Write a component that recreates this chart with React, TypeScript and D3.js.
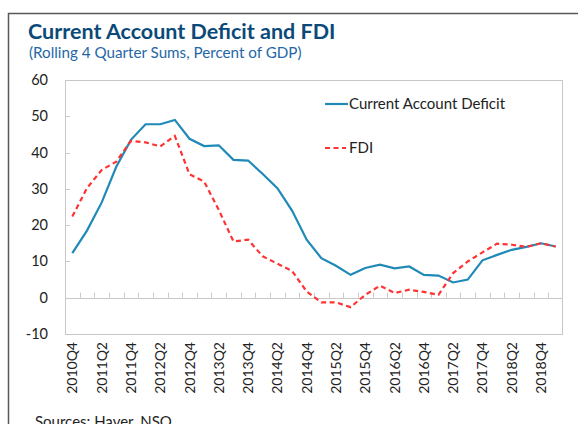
import React from "react";
import * as d3 from "d3";

const categories: string[] = [
  "2010Q4","2011Q1","2011Q2","2011Q3","2011Q4","2012Q1","2012Q2","2012Q3","2012Q4",
  "2013Q1","2013Q2","2013Q3","2013Q4","2014Q1","2014Q2","2014Q3","2014Q4",
  "2015Q1","2015Q2","2015Q3","2015Q4","2016Q1","2016Q2","2016Q3","2016Q4",
  "2017Q1","2017Q2","2017Q3","2017Q4","2018Q1","2018Q2","2018Q3","2018Q4","2019Q1",
];

const currentAccountDeficit: number[] = [
  12.3, 18.5, 26.2, 36.1, 43.5, 47.8, 47.8, 49.0, 43.8,
  41.8, 42.0, 38.0, 37.8, 34.1, 30.2, 24.0, 16.0,
  10.9, 8.8, 6.3, 8.2, 9.1, 8.1, 8.6, 6.3,
  6.1, 4.2, 5.0, 10.3, 11.8, 13.2, 14.0, 15.0, 14.1,
];

const fdi: number[] = [
  22.4, 30.2, 35.2, 37.5, 43.2, 42.8, 41.7, 44.6, 34.0,
  32.0, 24.2, 15.5, 16.0, 11.4, 9.4, 7.4, 1.7,
  -1.3, -1.3, -2.6, 0.8, 3.3, 1.3, 2.2, 1.6,
  0.8, 6.8, 10.0, 12.5, 14.9, 14.6, 14.0, 15.0, 14.1,
];

const yTicks: number[] = [-10, 0, 10, 20, 30, 40, 50, 60];

const FONT = "Lato, 'Open Sans', sans-serif";
const BLUE = "#1f8ab8";
const RED = "#ff3333";

export default function App() {
  const W = 578, H = 424;
  const left = 65, right = 563, top = 80, bottom = 334;
  const x = d3.scaleBand<string>().domain(categories).range([left, right]);
  const y = d3.scaleLinear().domain([-10, 60]).range([bottom, top]);
  const cx = (c: string) => (x(c) as number) + x.bandwidth() / 2;

  const line = d3.line<number>()
    .x((_, i) => cx(categories[i]))
    .y((d) => y(d));

  const boundaries = categories.slice(1).map((c) => x(c) as number);
  const labelCats = categories.filter((_, i) => i % 2 === 0);

  return (
    <svg width={W} height={H} style={{ position: "absolute", left: 0, top: 0, background: "#fff" }}
      fontFamily={FONT}>
      <rect x={0} y={0} width={W} height={H} fill="#fff" />
      {/* frame */}
      <path d={`M8.5,${H + 5} V13.5 H${W + 5}`} fill="none" stroke="#595959" strokeWidth={1.5} />
      {/* title */}
      <text x={28} y={39} fontSize={21.5} fontWeight={700} fill="#0b4a78">Current Account Deficit and FDI</text>
      <text x={29} y={58} fontSize={15.2} fill="#1f67a6">(Rolling 4 Quarter Sums, Percent of GDP)</text>
      {/* plot box */}
      <rect x={left + 0.5} y={top + 0.5} width={right - left - 1} height={bottom - top} fill="none" stroke="#c8c8c8" strokeWidth={1} />
      {/* y ticks */}
      {yTicks.map((t) => (
        <g key={t}>
          {t !== -10 && t !== 60 && t !== 0 && (
            <line x1={left} x2={left + 5} y1={Math.round(y(t)) + 0.5} y2={Math.round(y(t)) + 0.5} stroke="#c8c8c8" />
          )}
          <text x={48} y={y(t) + 5} fontSize={14.5} textAnchor="end" fill="#222">{t}</text>
        </g>
      ))}
      {/* zero axis */}
      <line x1={left} x2={right} y1={Math.round(y(0)) + 0.5} y2={Math.round(y(0)) + 0.5} stroke="#c8c8c8" />
      {boundaries.map((b, i) => (
        <line key={i} x1={Math.round(b) + 0.5} x2={Math.round(b) + 0.5} y1={y(0)} y2={y(0) - 5} stroke="#c8c8c8" />
      ))}
      {/* x labels */}
      {labelCats.map((c) => (
        <text key={c} transform={`translate(${cx(c) + 5},${bottom + 8}) rotate(-90)`} fontSize={14} textAnchor="end" fill="#222">{c}</text>
      ))}
      {/* series */}
      <path d={line(currentAccountDeficit) || ""} fill="none" stroke={BLUE} strokeWidth={2.2} />
      <path d={line(fdi) || ""} fill="none" stroke={RED} strokeWidth={2.2} strokeDasharray="5,3.5" />
      {/* legend */}
      <line x1={325} x2={348} y1={104} y2={104} stroke={BLUE} strokeWidth={2.2} />
      <text x={349} y={109} fontSize={15} fill="#222">Current Account Deficit</text>
      <line x1={325} x2={346} y1={148} y2={148} stroke={RED} strokeWidth={2.2} strokeDasharray="5,3.5" />
      <text x={349} y={153} fontSize={15} fill="#222">FDI</text>
      {/* sources */}
      <text x={35} y={427} fontSize={15} fill="#222">Sources: Haver, NSO</text>
    </svg>
  );
}
